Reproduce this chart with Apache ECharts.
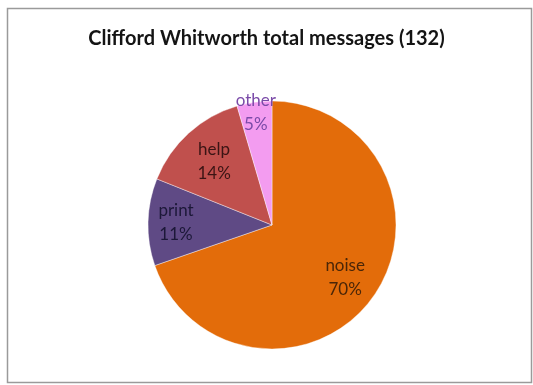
<!DOCTYPE html>
<html>
<head>
<meta charset="utf-8">
<script src="https://cdn.jsdelivr.net/npm/echarts@6/dist/echarts.min.js"></script>
<style>
  html, body { margin: 0; padding: 0; background: #fff; }
  #chart { width: 533px; height: 385px; }
</style>
</head>
<body>
<div id="chart"></div>
<script>
// data (132 messages in total)
const titleText = 'Clifford Whitworth total messages (132)'
const categories = ['noise', 'print', 'help', 'other']
const counts = [92, 15, 19, 6]
const sliceColors = ['#e36c0a', '#5f4a85', '#c0504d', '#f39cf0']
const labelColors = ['#4a2608', '#1c1838', '#3a1414', '#7a4aa8']

const chartDom = document.getElementById('chart')
const myChart = echarts.init(chartDom, null, { renderer: 'canvas' })

const center = [272, 225]
const R = 124
// how far out each label sits (ghost pie radius as a multiple of R)
const labelScale = [1.4, 1.5, 1.34, 1.78]

function pieData(showIdx, ghost) {
  return categories.map((name, i) => ({
    name: name,
    value: counts[i],
    itemStyle: { color: ghost ? 'rgba(0,0,0,0)' : sliceColors[i] },
    label: { show: showIdx.includes(i), color: labelColors[i] }
  }))
}

// ghost series used only to place one label further out than the half radius
function labelSeries(idx) {
  return {
    type: 'pie',
    center: center,
    radius: [0, R * labelScale[idx]],
    startAngle: 90,
    clockwise: true,
    silent: true,
    percentPrecision: 0,
    itemStyle: { borderWidth: 0 },
    label: {
      position: 'inside',
      formatter: '{b}\n{d}%',
      fontFamily: 'Lato',
      fontSize: 17,
      lineHeight: 24
    },
    labelLine: { show: false },
    emphasis: { disabled: true },
    data: pieData([idx], true)
  }
}

const option = {
  animation: false,
  title: {
    text: titleText,
    left: 'center',
    top: 24,
    textStyle: {
      fontFamily: 'Lato',
      fontWeight: 'bold',
      fontSize: 20,
      color: '#141414'
    }
  },
  graphic: [{
    type: 'rect',
    shape: { x: 7.5, y: 8.5, width: 524, height: 374 },
    style: { fill: 'none', stroke: '#9a9a9a', lineWidth: 1.5 }
  }],
  series: [
    {
      type: 'pie',
      center: center,
      radius: [0, R],
      startAngle: 90,
      clockwise: true,
      silent: true,
      itemStyle: { borderColor: 'rgba(255,255,255,0.5)', borderWidth: 0.8 },
      label: { show: false },
      labelLine: { show: false },
      data: pieData([], false)
    }
  ].concat(categories.map((c, i) => labelSeries(i)))
}

myChart.setOption(option)
</script>
</body>
</html>
